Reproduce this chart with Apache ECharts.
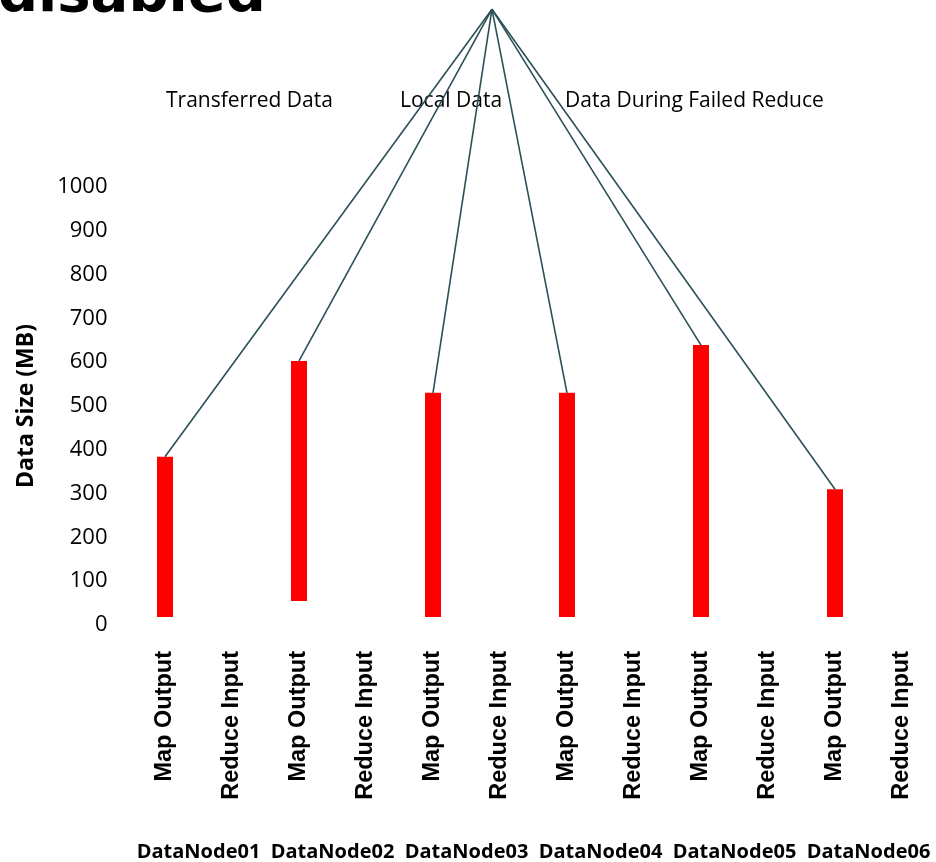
<!DOCTYPE html>
<html>
<head>
<meta charset="utf-8">
<script src="https://cdn.jsdelivr.net/npm/echarts@6/dist/echarts.min.js"></script>
<style>
  html, body { margin: 0; padding: 0; background: #ffffff; }
  #chart { width: 936px; height: 862px; }
</style>
</head>
<body>
<div id="chart"></div>
<script>
// Per-node stages shown on the category axis
const stages = [
  'Map Output', 'Reduce Input', 'Map Output', 'Reduce Input',
  'Map Output', 'Reduce Input', 'Map Output', 'Reduce Input',
  'Map Output', 'Reduce Input', 'Map Output', 'Reduce Input'
];
const nodes = ['DataNode01', 'DataNode02', 'DataNode03', 'DataNode04', 'DataNode05', 'DataNode06'];

// Floating bars: lower and upper edge in MB (null = no bar for that stage)
const sizeLow  = [18, null, 55, null, 18, null, 18, null, 18, null, 18, null];
const sizeHigh = [384, null, 603, null, 530, null, 530, null, 639, null, 310, null];

// Y axis range
const yMin = 0;
const yMax = 1000;
const yStep = 100;

// Callout captions above the plot
const calloutLabels = ['Transferred Data', 'Local Data', 'Data During Failed Reduce'];

// Common origin of the callout lines (category position, value)
const calloutOrigin = { category: 4.88, value: 1406 };

const barBase = sizeLow.map(v => v);
const barSpan = sizeHigh.map((v, i) => (v == null ? null : v - sizeLow[i]));
const barTops = sizeHigh
  .map((v, i) => (v == null ? null : [i, v]))
  .filter(d => d !== null);

const chart = echarts.init(document.getElementById('chart'), null, { renderer: 'canvas' });

const calloutX = [166, 400, 565];

chart.setOption({
  animation: false,
  backgroundColor: '#ffffff',
  grid: { left: 131.5, right: 0.5, top: 187, bottom: 237 },
  xAxis: [
    {
      type: 'category',
      data: stages,
      position: 'bottom',
      axisLine: { show: false },
      axisTick: { show: false },
      axisLabel: {
        interval: 0,
        rotate: 90,
        margin: 26,
        color: '#000',
        fontFamily: 'Liberation Sans',
        fontWeight: 'bold',
        fontSize: 23.5
      },
      splitLine: { show: false }
    },
    {
      type: 'category',
      data: nodes,
      position: 'bottom',
      offset: 209,
      axisLine: { show: false },
      axisTick: { show: false },
      axisLabel: {
        interval: 0,
        margin: 8,
        color: '#000',
        fontFamily: 'Open Sans',
        fontWeight: 'bold',
        fontSize: 20
      },
      splitLine: { show: false }
    }
  ],
  yAxis: {
    type: 'value',
    min: yMin,
    max: yMax,
    interval: yStep,
    name: 'Data Size (MB)',
    nameLocation: 'middle',
    nameGap: 94,
    nameTextStyle: {
      color: '#000',
      fontFamily: 'Open Sans',
      fontWeight: 'bold',
      fontSize: 23
    },
    axisLine: { show: false },
    axisTick: { show: false },
    splitLine: { show: false },
    axisLabel: {
      margin: 24,
      color: '#000',
      fontFamily: 'Open Sans',
      fontSize: 22,
      formatter: v => String(v)
    }
  },
  series: [
    {
      name: 'base',
      type: 'bar',
      stack: 'size',
      xAxisIndex: 0,
      barWidth: 16,
      itemStyle: { color: 'transparent' },
      silent: true,
      data: barBase
    },
    {
      name: 'Data Size',
      type: 'bar',
      stack: 'size',
      xAxisIndex: 0,
      barWidth: 16,
      itemStyle: { color: '#ff0000' },
      data: barSpan
    },
    {
      name: 'callouts',
      type: 'custom',
      xAxisIndex: 0,
      z: 5,
      silent: true,
      encode: { x: 0, y: 1 },
      data: barTops,
      renderItem: function (params, api) {
        const end = api.coord([api.value(0), api.value(1)]);
        const k = Math.floor(calloutOrigin.category);
        const f = calloutOrigin.category - k;
        const a = api.coord([k, calloutOrigin.value]);
        const b = api.coord([k + 1, calloutOrigin.value]);
        const start = [a[0] + (b[0] - a[0]) * f, a[1]];
        return {
          type: 'line',
          shape: { x1: start[0], y1: start[1], x2: end[0], y2: end[1] },
          style: { stroke: '#2a5157', lineWidth: 1.6 }
        };
      }
    }
  ],
  graphic: [
    {
      type: 'text',
      x: -2,
      y: -4,
      style: {
        text: 'disabled',
        font: 'bold 56px "DejaVu Sans"',
        fill: '#000',
        verticalAlign: 'middle'
      }
    }
  ].concat(calloutLabels.map((t, i) => ({
    type: 'text',
    x: calloutX[i],
    y: 101,
    style: {
      text: t,
      font: '21px "Open Sans"',
      fill: '#000',
      verticalAlign: 'middle'
    }
  })))
});
</script>
</body>
</html>
